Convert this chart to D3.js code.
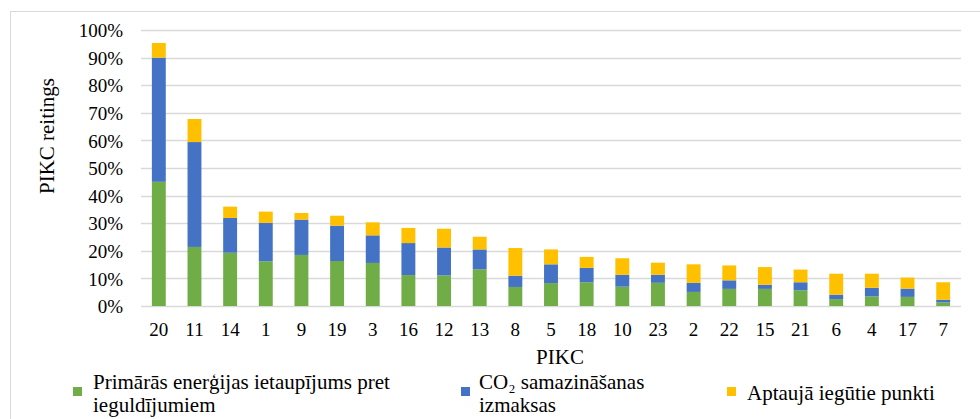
<!DOCTYPE html>
<html>
<head>
<meta charset="utf-8">
<script src="https://cdn.jsdelivr.net/npm/d3@7/dist/d3.min.js"></script>
<style>
  html, body { margin: 0; padding: 0; background: #fff; }
  svg { display: block; }
  text { font-family: "Liberation Serif", "Times New Roman", serif; fill: #000; }
</style>
</head>
<body>
<svg id="chart" width="980" height="419"></svg>
<script>
// PIKC identifiers, in ranking order
const categories = ["20","11","14","1","9","19","3","16","12","13","8","5","18","10","23","2","22","15","21","6","4","17","7"];

// Rating components, percent of the maximum score
const primaryEnergy = [45.0,21.4,19.3,16.2,18.5,16.3,15.6,11.2,11.1,13.3,6.9,8.3,8.6,7.0,8.4,5.1,6.2,6.2,5.7,2.5,3.5,3.3,1.3];
const co2Cost       = [45.0,38.0,12.6,13.9,12.8,12.8,10.0,11.6,10.1,7.2,4.1,6.8,5.2,4.3,2.9,3.3,3.1,1.5,2.9,1.6,3.1,3.0,1.0];
const surveyPoints  = [5.3,8.35,4.1,4.1,2.4,3.6,4.7,5.5,6.8,4.6,10.0,5.4,4.0,6.0,4.4,6.7,5.4,6.4,4.6,7.6,5.1,4.0,6.3];

const yTicks = [0,10,20,30,40,50,60,70,80,90,100];

const seriesNames = [
  ["Primārās enerģijas ietaupījums pret", "ieguldījumiem"],
  ["CO₂ samazināšanas", "izmaksas"],
  ["Aptaujā iegūtie punkti"]
];
const colors = ["#70AD47", "#4472C4", "#FFC000"];

const svg = d3.select("#chart");
const W = 980, H = 419;
const plot = { left: 141, right: 961, top: 30, bottom: 306 };

// outer chart frame
svg.append("rect")
  .attr("x", 10.5).attr("y", 11.5)
  .attr("width", W + 20).attr("height", H + 20)
  .attr("fill", "none").attr("stroke", "#D9D9D9").attr("stroke-width", 1);

const x = d3.scaleBand().domain(categories).range([plot.left, plot.right]).paddingInner(0.61).paddingOuter(0.305);
const y = d3.scaleLinear().domain([0, 100]).range([plot.bottom, plot.top]);

// gridlines
svg.append("g")
  .selectAll("line")
  .data(yTicks)
  .join("line")
  .attr("x1", plot.left).attr("x2", plot.right)
  .attr("y1", d => Math.round(y(d)) + 0.5).attr("y2", d => Math.round(y(d)) + 0.5)
  .attr("stroke", "#D9D9D9").attr("stroke-width", 1.3);

// y axis labels
const yAxis = d3.axisLeft(y).tickValues(yTicks).tickFormat(d => d + "%").tickSize(0).tickPadding(0);
const gy = svg.append("g").attr("transform", `translate(123,0)`).call(yAxis);
gy.select(".domain").remove();
gy.selectAll("text").style("font-size", "19px").attr("font-family", null).attr("dy", "0.35em");

// x axis labels
const xAxis = d3.axisBottom(x).tickSize(0).tickPadding(0);
const gx = svg.append("g").attr("transform", `translate(0,${plot.bottom})`).call(xAxis);
gx.select(".domain").remove();
gx.selectAll("text").style("font-size", "19px").attr("font-family", null).attr("y", 30).attr("dy", 0);

// stacked bars
const rows = categories.map((c, i) => ({ cat: c, s0: primaryEnergy[i], s1: co2Cost[i], s2: surveyPoints[i] }));
const stack = d3.stack().keys(["s0", "s1", "s2"]);
const layers = stack(rows);

svg.append("g")
  .selectAll("g")
  .data(layers)
  .join("g")
  .attr("fill", (d, i) => colors[i])
  .selectAll("rect")
  .data(d => d)
  .join("rect")
  .attr("x", d => x(d.data.cat))
  .attr("width", x.bandwidth())
  .attr("y", d => y(d[1]))
  .attr("height", d => y(d[0]) - y(d[1]));

// axis titles
svg.append("text")
  .attr("transform", "translate(54,136) rotate(-90)")
  .attr("text-anchor", "middle")
  .style("font-size", "21px")
  .text("PIKC reitings");

svg.append("text")
  .attr("x", 560).attr("y", 364)
  .attr("text-anchor", "middle")
  .style("font-size", "21px")
  .text("PIKC");

// legend
const legendItems = [
  { mx: 73, tx: 93 },
  { mx: 461, tx: 479 },
  { mx: 727, tx: 747 }
];
const lg = svg.append("g");
legendItems.forEach((it, i) => {
  lg.append("rect")
    .attr("x", it.mx).attr("y", 387)
    .attr("width", 9).attr("height", 9)
    .attr("fill", colors[i]);
  const lines = seriesNames[i];
  const t = lg.append("text").style("font-size", "21px");
  const firstBaseline = lines.length === 2 ? 389 : 400;
  lines.forEach((ln, j) => {
    t.append("tspan").attr("x", it.tx).attr("y", firstBaseline + j * 23).text(ln);
  });
});
</script>
</body>
</html>
